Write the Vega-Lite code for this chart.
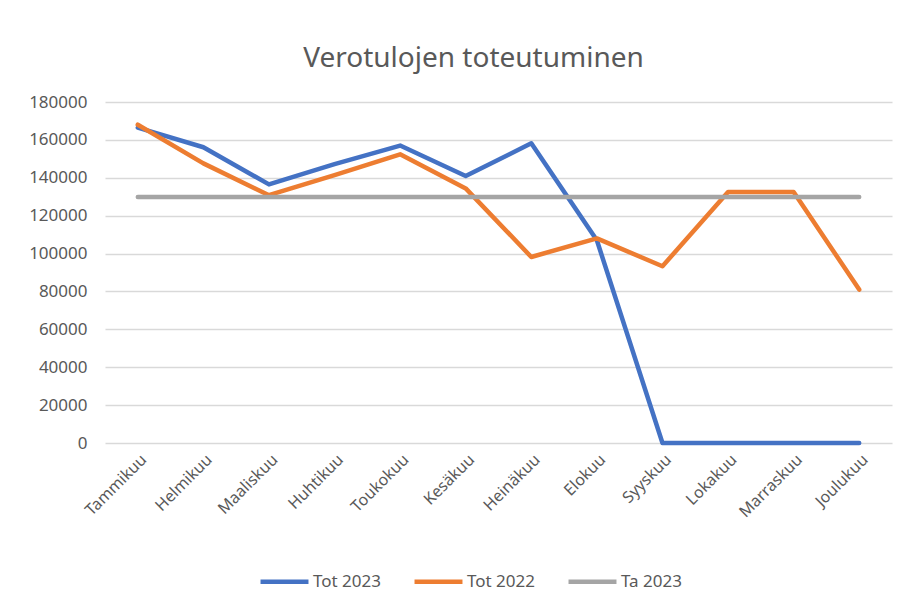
{
  "$schema": "https://vega.github.io/schema/vega-lite/v6.json",
  "width": 787,
  "height": 341,
  "autosize": {"type": "none"},
  "padding": {"left": 105, "top": 102, "right": 12, "bottom": 170},
  "background": "white",
  "title": {
    "text": "Verotulojen toteutuminen",
    "font": "Noto Sans",
    "fontSize": 28,
    "fontWeight": "normal",
    "color": "#595959",
    "anchor": "middle",
    "dx": -25,
    "offset": 20
  },
  "data": {
    "values": [
      {"kk": "Tammikuu", "sarja": "Tot 2023", "arvo": 166500},
      {"kk": "Helmikuu", "sarja": "Tot 2023", "arvo": 156100},
      {"kk": "Maaliskuu", "sarja": "Tot 2023", "arvo": 136500},
      {"kk": "Huhtikuu", "sarja": "Tot 2023", "arvo": 147200},
      {"kk": "Toukokuu", "sarja": "Tot 2023", "arvo": 157000},
      {"kk": "Kesäkuu", "sarja": "Tot 2023", "arvo": 140900},
      {"kk": "Heinäkuu", "sarja": "Tot 2023", "arvo": 158200},
      {"kk": "Elokuu", "sarja": "Tot 2023", "arvo": 107000},
      {"kk": "Syyskuu", "sarja": "Tot 2023", "arvo": 0},
      {"kk": "Lokakuu", "sarja": "Tot 2023", "arvo": 0},
      {"kk": "Marraskuu", "sarja": "Tot 2023", "arvo": 0},
      {"kk": "Joulukuu", "sarja": "Tot 2023", "arvo": 0},
      {"kk": "Tammikuu", "sarja": "Tot 2022", "arvo": 168000},
      {"kk": "Helmikuu", "sarja": "Tot 2022", "arvo": 147600},
      {"kk": "Maaliskuu", "sarja": "Tot 2022", "arvo": 130800},
      {"kk": "Huhtikuu", "sarja": "Tot 2022", "arvo": 141400},
      {"kk": "Toukokuu", "sarja": "Tot 2022", "arvo": 152400},
      {"kk": "Kesäkuu", "sarja": "Tot 2022", "arvo": 134400},
      {"kk": "Heinäkuu", "sarja": "Tot 2022", "arvo": 98200},
      {"kk": "Elokuu", "sarja": "Tot 2022", "arvo": 108000},
      {"kk": "Syyskuu", "sarja": "Tot 2022", "arvo": 93300},
      {"kk": "Lokakuu", "sarja": "Tot 2022", "arvo": 132500},
      {"kk": "Marraskuu", "sarja": "Tot 2022", "arvo": 132500},
      {"kk": "Joulukuu", "sarja": "Tot 2022", "arvo": 81000},
      {"kk": "Tammikuu", "sarja": "Ta 2023", "arvo": 129800},
      {"kk": "Helmikuu", "sarja": "Ta 2023", "arvo": 129800},
      {"kk": "Maaliskuu", "sarja": "Ta 2023", "arvo": 129800},
      {"kk": "Huhtikuu", "sarja": "Ta 2023", "arvo": 129800},
      {"kk": "Toukokuu", "sarja": "Ta 2023", "arvo": 129800},
      {"kk": "Kesäkuu", "sarja": "Ta 2023", "arvo": 129800},
      {"kk": "Heinäkuu", "sarja": "Ta 2023", "arvo": 129800},
      {"kk": "Elokuu", "sarja": "Ta 2023", "arvo": 129800},
      {"kk": "Syyskuu", "sarja": "Ta 2023", "arvo": 129800},
      {"kk": "Lokakuu", "sarja": "Ta 2023", "arvo": 129800},
      {"kk": "Marraskuu", "sarja": "Ta 2023", "arvo": 129800},
      {"kk": "Joulukuu", "sarja": "Ta 2023", "arvo": 129800}
    ]
  },
  "mark": {"type": "line", "strokeWidth": 4.5, "strokeCap": "round", "strokeJoin": "round"},
  "encoding": {
    "x": {
      "field": "kk",
      "type": "nominal",
      "sort": null,
      "scale": {"type": "point", "padding": 0.5},
      "axis": {
        "title": null,
        "labelAngle": -45,
        "labelFont": "Noto Sans",
        "labelFontSize": 16,
        "labelColor": "#595959",
        "labelPadding": 8,
        "ticks": false,
        "domain": false,
        "grid": false
      }
    },
    "y": {
      "field": "arvo",
      "type": "quantitative",
      "scale": {"domain": [0, 180000], "nice": false},
      "axis": {
        "title": null,
        "values": [0, 20000, 40000, 60000, 80000, 100000, 120000, 140000, 160000, 180000],
        "format": "d",
        "labelFont": "Noto Sans",
        "labelFontSize": 17,
        "labelColor": "#595959",
        "labelPadding": 18,
        "ticks": false,
        "domain": false,
        "grid": true,
        "gridColor": "#D9D9D9",
        "gridWidth": 1.5
      }
    },
    "color": {
      "field": "sarja",
      "type": "nominal",
      "scale": {"domain": ["Tot 2023", "Tot 2022", "Ta 2023"], "range": ["#4472C4", "#ED7D31", "#A5A5A5"]},
      "legend": {
        "title": null,
        "orient": "none",
        "direction": "horizontal",
        "legendX": 153,
        "legendY": 453,
        "symbolType": "stroke",
        "symbolSize": 2300,
        "symbolStrokeWidth": 4.5,
        "labelFont": "Noto Sans",
        "labelFontSize": 17,
        "labelColor": "#595959",
        "labelOffset": 2,
        "columnPadding": 24
      }
    }
  },
  "config": {"view": {"stroke": null}}
}
